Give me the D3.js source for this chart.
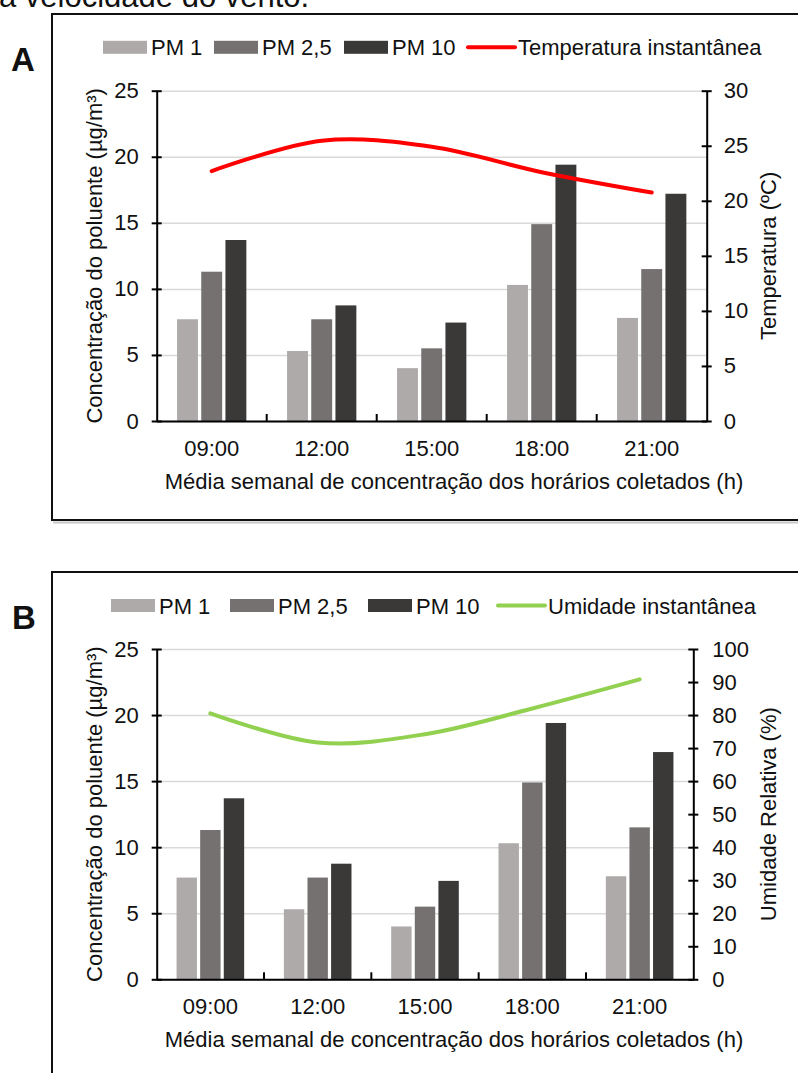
<!DOCTYPE html>
<html>
<head>
<meta charset="utf-8">
<script src="https://cdn.jsdelivr.net/npm/d3@7"></script>
<style>
    body { margin: 0; background: #fff; }
    svg { display: block; font-family: Arial, "Liberation Sans", sans-serif; }
</style>
</head>
<body>
<svg id="fig" width="798" height="1073"></svg>
<script>
// data
const horarios = ["09:00", "12:00", "15:00", "18:00", "21:00"];
const series = ["PM 1", "PM 2,5", "PM 10"];
const pm1 = [7.7, 5.3, 4.0, 10.3, 7.8];
const pm25 = [11.3, 7.7, 5.5, 14.9, 11.5];
const pm10 = [13.7, 8.75, 7.45, 19.4, 17.2];
const temperatura = [22.7, 25.45, 24.9, 22.6, 20.75];
const umidade = [80.5, 71.7, 74.2, 82.0, 90.8];
const concTicks = [0, 5, 10, 15, 20, 25];
const tempTicks = [0, 5, 10, 15, 20, 25, 30];
const umidTicks = [0, 10, 20, 30, 40, 50, 60, 70, 80, 90, 100];

const seriesColors = ["#aeaaaa", "#757171", "#3b3838"];
const FONT = 22;

class PanelChart {

    constructor(_config) {
        this.config = _config;
        this.rows = horarios.map((h, i) => ({ hora: h, "PM 1": pm1[i], "PM 2,5": pm25[i], "PM 10": pm10[i], linha: _config.lineValues[i] }));
        this.initVis();
        this.drawLegend();
    }

    initVis() {
        let vis = this;
        let c = vis.config;
        vis.svg = d3.select("#fig");
        vis.g = vis.svg.append("g");

        // frame with a little shadow under the bottom border
        if (c.frameBottom) {
            vis.g.append("line")
                .attr("x1", c.frameLeft + 1).attr("x2", 800)
                .attr("y1", c.frameBottom + 2.5).attr("y2", c.frameBottom + 2.5)
                .attr("stroke", "#c8c8c8").attr("stroke-width", 2);
        }
        vis.g.append("path")
            .attr("d", `M800,${c.frameTop}H${c.frameLeft}V${c.frameBottom || 1080}` + (c.frameBottom ? `H800` : ""))
            .attr("fill", "none").attr("stroke", "#111").attr("stroke-width", 2);

        vis.g.append("text")
            .attr("x", c.labelX).attr("y", c.labelY)
            .attr("font-size", 33).attr("font-weight", "bold")
            .attr("fill", "#111")
            .text(c.label);

        vis.width = c.right - c.left;
        vis.height = c.bottom - c.top;
        vis.chart = vis.g.append("g")
            .attr("transform", `translate(${c.left},${c.top})`);

        vis.xScale = d3.scaleBand().domain(horarios).range([0, vis.width]).padding(0);
        vis.xInner = d3.scaleBand().domain(series)
            .range([vis.xScale.bandwidth() * 0.185, vis.xScale.bandwidth() * 0.815])
            .paddingInner(0.136).paddingOuter(0);
        vis.yScale = d3.scaleLinear().domain([0, 25]).range([vis.height, 0]);
        vis.yRight = d3.scaleLinear().domain([0, c.rightTicks[c.rightTicks.length - 1]]).range([vis.height, 0]);

        // gridlines
        vis.chart.append("g")
            .attr("class", "grid")
            .call(d3.axisLeft(vis.yScale).tickValues(concTicks).tickSize(-vis.width).tickFormat(""))
            .call(g => g.select(".domain").remove())
            .call(g => g.selectAll("line").attr("stroke", "#d9d9d9").attr("stroke-width", 1.5));

        // bars
        vis.chart.append("g")
            .selectAll("g")
            .data(vis.rows)
            .join("g")
            .attr("transform", d => `translate(${vis.xScale(d.hora)},0)`)
            .selectAll("rect")
            .data(d => series.map((s, i) => ({ key: s, value: d[s], color: seriesColors[i] })))
            .join("rect")
            .attr("x", d => vis.xInner(d.key))
            .attr("width", vis.xInner.bandwidth())
            .attr("y", d => vis.yScale(d.value))
            .attr("height", d => vis.height - vis.yScale(d.value))
            .attr("fill", d => d.color);

        // x axis
        vis.chart.append("g")
            .attr("class", "x axis")
            .attr("transform", `translate(0,${vis.height})`)
            .call(d3.axisBottom(vis.xScale).tickSize(0).tickPadding(19))
            .call(g => g.select(".domain").attr("stroke", "#000").attr("stroke-width", 2))
            .call(g => g.selectAll("text").attr("font-size", FONT).attr("fill", "#111").attr("font-family", null));

        vis.chart.append("g")
            .selectAll("line")
            .data(horarios.slice(1))
            .join("line")
            .attr("x1", d => vis.xScale(d)).attr("x2", d => vis.xScale(d))
            .attr("y1", vis.height).attr("y2", vis.height - 7)
            .attr("stroke", "#000").attr("stroke-width", 2);

        // left axis
        vis.chart.append("g")
            .attr("class", "y axis")
            .call(d3.axisLeft(vis.yScale).tickValues(concTicks).tickSize(5).tickPadding(13).tickSizeOuter(0))
            .call(g => g.select(".domain").attr("stroke", "#000").attr("stroke-width", 2))
            .call(g => g.selectAll(".tick line").attr("x1", 5).attr("stroke", "#000").attr("stroke-width", 2))
            .call(g => g.selectAll("text").attr("font-size", FONT).attr("fill", "#111").attr("font-family", null));

        // right axis
        vis.chart.append("g")
            .attr("class", "y axis right")
            .attr("transform", `translate(${vis.width},0)`)
            .call(d3.axisRight(vis.yRight).tickValues(c.rightTicks).tickSize(5).tickPadding(c.rightPad).tickSizeOuter(0))
            .call(g => g.select(".domain").attr("stroke", "#000").attr("stroke-width", 2))
            .call(g => g.selectAll(".tick line").attr("x1", -5).attr("stroke", "#000").attr("stroke-width", 2))
            .call(g => g.selectAll("text").attr("font-size", FONT).attr("fill", "#111").attr("font-family", null));

        // line series (Excel style smoothed)
        let line = d3.line()
            .x(d => vis.xScale(d.hora) + vis.xScale.bandwidth() / 2)
            .y(d => vis.yRight(d.linha))
            .curve(d3.curveCatmullRom.alpha(0));

        vis.chart.append("path")
            .datum(vis.rows)
            .attr("d", line)
            .attr("fill", "none")
            .attr("stroke", c.lineColor)
            .attr("stroke-width", 4)
            .attr("stroke-linecap", "round");

        // axis titles
        vis.chart.append("text")
            .attr("transform", `translate(${102 - c.left},${vis.height / 2}) rotate(-90)`)
            .attr("text-anchor", "middle")
            .attr("font-size", FONT).attr("fill", "#111")
            .text("Concentração do poluente (µg/m³)");

        vis.chart.append("text")
            .attr("transform", `translate(${776 - c.left},${vis.height / 2}) rotate(-90)`)
            .attr("text-anchor", "middle")
            .attr("font-size", FONT).attr("fill", "#111")
            .text(c.rightTitle);

        vis.chart.append("text")
            .attr("x", 454 - c.left)
            .attr("y", vis.height + 68)
            .attr("text-anchor", "middle")
            .attr("font-size", FONT).attr("fill", "#111")
            .text("Média semanal de concentração dos horários coletados (h)");
    }

    drawLegend() {
        let vis = this;
        let c = vis.config;
        let leg = vis.g.append("g").attr("transform", `translate(0,${c.legendY})`);

        leg.selectAll("rect")
            .data(series)
            .join("rect")
            .attr("x", (d, i) => c.swatchX[i])
            .attr("y", -6.5)
            .attr("width", 44).attr("height", 13)
            .attr("fill", (d, i) => seriesColors[i]);

        leg.selectAll("text.serie")
            .data(series)
            .join("text")
            .attr("class", "serie")
            .attr("x", (d, i) => c.swatchX[i] + 48)
            .attr("y", 8)
            .attr("font-size", FONT).attr("fill", "#111")
            .text(d => d);

        leg.append("line")
            .attr("x1", c.lineLegendX).attr("x2", c.lineLegendX + 47)
            .attr("y1", 0).attr("y2", 0)
            .attr("stroke", c.lineColor).attr("stroke-width", 4).attr("stroke-linecap", "round");

        leg.append("text")
            .attr("x", c.lineLegendX + 50)
            .attr("y", 8)
            .attr("font-size", FONT).attr("fill", "#111")
            .text(c.lineLabel);
    }
}

// cut-off line of body text above the figure
d3.select("#fig").append("text")
    .attr("x", -1).attr("y", 7)
    .attr("font-size", 31).attr("fill", "#111")
    .text("a velocidade do vento.");

new PanelChart({
    label: "A", labelX: 11, labelY: 71,
    frameTop: 14, frameLeft: 52, frameBottom: 520,
    left: 156.7, right: 706.7, top: 90.7, bottom: 421,
    rightTicks: tempTicks, rightPad: 12,
    lineValues: temperatura, lineColor: "#ff0000",
    lineLabel: "Temperatura instantânea", rightTitle: "Temperatura (ºC)",
    legendY: 47.3, swatchX: [103, 214, 344], lineLegendX: 468
});

new PanelChart({
    label: "B", labelX: 12, labelY: 629,
    frameTop: 572, frameLeft: 52, frameBottom: null,
    left: 156.7, right: 693.3, top: 649, bottom: 979.3,
    rightTicks: umidTicks, rightPad: 14,
    lineValues: umidade, lineColor: "#92d050",
    lineLabel: "Umidade instantânea", rightTitle: "Umidade Relativa (%)",
    legendY: 605.5, swatchX: [111, 230, 368], lineLegendX: 498
});
</script>
</body>
</html>
